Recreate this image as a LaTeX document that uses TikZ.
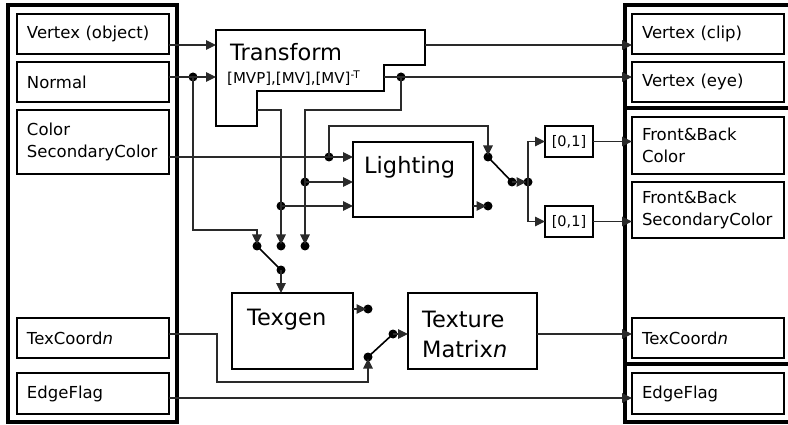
\documentclass[tikz,border=0pt]{standalone}
\usepackage{fontspec}
\setmainfont{DejaVu Sans}
\usepackage{xcolor}
\definecolor{cLine}{HTML}{000000}
\definecolor{cWire}{HTML}{2A2A2A}
\usepackage{tikz}
\usetikzlibrary{positioning,arrows.meta,calc}
\tikzset{
  io-frame/.style={draw=cLine,line width=3.5pt},
  io-box/.style={draw=cLine,line width=1.5pt,anchor=north west,outer sep=0pt,
    inner xsep=10pt,inner ysep=0pt,text width=132pt,align=left},
  stage-box/.style={draw=cLine,line width=1.5pt,anchor=north west,outer sep=0pt,inner sep=0pt},
  stage-text/.style={anchor=base west,inner sep=0pt,align=left,
    font=\fontsize{22.5}{30}\selectfont},
  clamp-box/.style={draw=cLine,line width=1.5pt,outer sep=0pt,inner sep=0pt,
    minimum width=48pt,minimum height=31pt,font=\fontsize{14.5}{16}\selectfont},
  dot/.style={circle,fill=cLine,inner sep=0pt,minimum size=9pt},
  wire/.style={draw=cWire,line width=1.2pt},
  arrow/.style={wire,-{Triangle[length=10pt,width=9.5pt]}},
  arrow-dot/.style={arrow,shorten >=1.5pt},
  blade/.style={draw=cLine,line width=1.6pt},
}

\begin{document}
\begin{tikzpicture}[x=1pt,y=-1pt,font=\fontsize{16.5}{22}\selectfont]
  \useasboundingbox (0,0) rectangle (788,425);
  % input / output frames
  \draw[io-frame] (8,5) rectangle (177,422);
  \draw[io-frame] (795,5) -- (625,5) -- (625,422) -- (795,422);
  \draw[io-frame] (625,108) -- (795,108);
  \draw[io-frame] (625,364) -- (795,364);

  \node[io-box,minimum height=40pt] (vobj) at (17,14) {Vertex (object)};
  \node[io-box,minimum height=40pt] (nrm) at (17,62) {Normal};
  \node[io-box,minimum height=64pt] (col) at (17,110) {Color\\SecondaryColor};
  \node[io-box,minimum height=40pt] (tcin) at (17,318) {TexCoord\textit{n}};
  \node[io-box,minimum height=41pt] (efin) at (17,373) {EdgeFlag};

  \node[io-box,minimum height=40pt] (vclip) at (632,14) {Vertex (clip)};
  \node[io-box,minimum height=40pt] (veye) at (632,62) {Vertex (eye)};
  \node[io-box,minimum height=57pt] (fbcol) at (632,117) {Front\&Back\\Color};
  \node[io-box,minimum height=56pt] (fbsec) at (632,182) {Front\&Back\\SecondaryColor};
  \node[io-box,minimum height=40pt] (tcout) at (632,318) {TexCoord\textit{n}};
  \node[io-box,minimum height=41pt] (efout) at (632,373) {EdgeFlag};

  % transform stage (notched outline)
  \draw[cLine,line width=1.5pt] (216,30) -- (425,30) -- (425,65) -- (384,65) -- (384,91)
    -- (257,91) -- (257,126) -- (216,126) -- cycle;
  \node[stage-text] (tf-txt) at (230,61) {Transform};
  \node[anchor=base west,inner sep=0pt,font=\fontsize{15}{18}\selectfont] (tf-mat) at (227,84)
    {[MVP],[MV],[MV]\textsuperscript{-T}};
  \coordinate (tf-in-v) at (216,45);
  \coordinate (tf-in-n) at (216,77);
  \coordinate (tf-out-clip) at (425,45);
  \coordinate (tf-out-eye) at (384,77);
  \coordinate (tf-out-nrm) at (257,110);

  \node[stage-box,minimum width=120pt,minimum height=75pt] (light) at (353,142) {};
  \node[stage-text] (light-txt) at ([shift={(11,32)}]light.north west) {Lighting};
  \node[stage-box,minimum width=121pt,minimum height=76pt] (texgen) at (232,293) {};
  \node[stage-text] (texgen-txt) at ([shift={(15,32)}]texgen.north west) {Texgen};
  \node[stage-box,minimum width=129pt,minimum height=76pt] (texmat) at (408,293) {};
  \node[stage-text] (texmat-txt) at ([shift={(14,64)}]texmat.north west) {Texture\\Matrix\textit{n}};

  \node[clamp-box] (clamp1) at (569,141.5) {[0,1]};
  \node[clamp-box] (clamp2) at (569,221.5) {[0,1]};

  % junctions and switch terminals
  \node[dot] (j-nrm) at (193,77) {};
  \node[dot] (j-eye) at (401,77) {};
  \node[dot] (j-eye2) at (305,182) {};
  \node[dot] (j-nrm2) at (281,206) {};
  \node[dot] (j-col) at (329,157) {};
  \node[dot] (sw1-a) at (257,246) {};
  \node[dot] (sw1-b) at (281,246) {};
  \node[dot] (sw1-c) at (305,246) {};
  \node[dot] (sw1-p) at (281,270) {};
  \node[dot] (sw2-a) at (488,157) {};
  \node[dot] (sw2-b) at (488,206) {};
  \node[dot] (sw2-p) at (512,182) {};
  \node[dot] (j-clamp) at (528,182) {};
  \node[dot] (sw3-a) at (368,309) {};
  \node[dot] (sw3-b) at (368,357) {};
  \node[dot] (sw3-p) at (393,334) {};

  \draw[arrow] (vobj.east |- tf-in-v) -- (tf-in-v);
  \draw[arrow] (nrm.east |- tf-in-n) -- (tf-in-n);
  \draw[arrow] (tf-out-clip) -- (vclip.west |- tf-out-clip);
  \draw[arrow] (tf-out-eye) -- (veye.west |- tf-out-eye);

  \draw[arrow-dot] (j-nrm.center) -- ++(0,153) -| (sw1-a.center);
  \draw[arrow-dot] (tf-out-nrm) -| (sw1-b.center);
  \draw[arrow-dot] (j-eye.center) -- ++(0,33) -| (sw1-c.center);
  \draw[arrow] (j-eye2.center) -- (j-eye2 -| light.west);
  \draw[arrow] (j-nrm2.center) -- (j-nrm2 -| light.west);
  \draw[arrow] (col.east |- j-col) -- (j-col -| light.west);
  \draw[arrow-dot] (j-col.center) -- ++(0,-31) -| (sw2-a.center);

  \draw[arrow-dot] (light.east |- sw2-b) -- (sw2-b.center);
  \draw[blade] (sw2-a.center) -- (sw2-p.center);
  \draw[arrow-dot] (sw2-p.center) -- (j-clamp.center);
  \draw[arrow] (j-clamp.center) |- (clamp1.west);
  \draw[arrow] (j-clamp.center) |- (clamp2.west);
  \draw[arrow] (clamp1.east) -- (fbcol.west |- clamp1.east);
  \draw[arrow] (clamp2.east) -- (fbsec.west |- clamp2.east);

  \draw[blade] (sw1-a.center) -- (sw1-p.center);
  \draw[arrow] (sw1-p.center) -- (sw1-p |- texgen.north);
  \draw[arrow-dot] (texgen.east |- sw3-a) -- (sw3-a.center);
  \draw[arrow-dot] (tcin.east |- sw3-p) -- ++(48,0) -- ++(0,48) -| (sw3-b.center);
  \draw[blade] (sw3-b.center) -- (sw3-p.center);
  \draw[arrow] (sw3-p.center) -- (sw3-p -| texmat.west);
  \draw[arrow] (texmat.east |- sw3-p) -- (tcout.west |- sw3-p);
  \draw[arrow] ([yshift=-4.5pt]efin.east) -- ([yshift=-4.5pt]efout.west);
\end{tikzpicture}
\end{document}
